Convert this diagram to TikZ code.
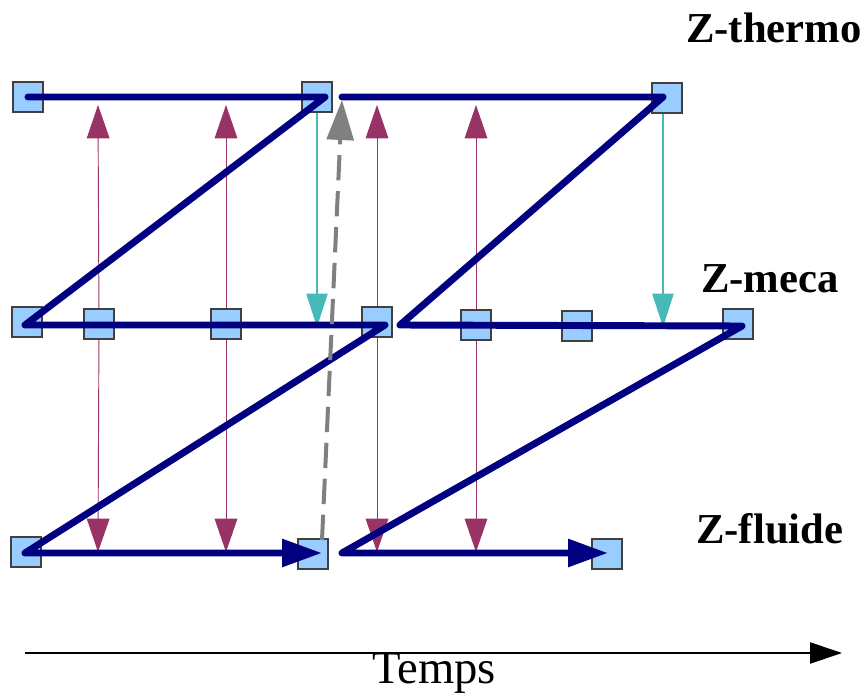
\documentclass[tikz,border=0pt]{standalone}
\usepackage{fontspec}
\setmainfont{Liberation Serif}
\usetikzlibrary{arrows.meta}
\definecolor{ZNavy}{RGB}{0,0,128}
\definecolor{ZBox}{RGB}{153,204,255}
\definecolor{ZSync}{RGB}{153,51,102}
\definecolor{ZTeal}{RGB}{70,185,185}
\definecolor{ZGray}{RGB}{128,128,128}
\tikzset{
  sq/.style={draw=black!75,fill=ZBox,minimum size=22.5pt,inner sep=0pt,line width=0.8pt},
  zline/.style={draw=ZNavy,line width=5.2pt,line cap=round,line join=round},
  zend/.style={zline,-{Triangle[length=30pt,width=20pt]}},
  sync/.style={draw=ZSync,line width=0.7pt,-{Triangle[length=25pt,width=17pt]}},
  back/.style={draw=ZTeal,line width=0.9pt,-{Triangle[length=25pt,width=16pt]}},
  pred/.style={draw=ZGray,line width=3pt,dash pattern=on 19pt off 8pt,-{Triangle[length=30pt,width=20pt]}},
  lab/.style={font=\bfseries\fontsize{32}{36}\selectfont,anchor=base west,inner sep=0pt},
}

\begin{document}
\begin{tikzpicture}[x=0.75pt,y=-0.75pt]
\useasboundingbox (0,0) rectangle (861,696);
% squares
\node[sq] (t1) at (28,97) {};
\node[sq] (t2) at (317,97) {};
\node[sq] (t3) at (667,98) {};
\node[sq] (m1) at (27,322) {};
\node[sq] (m2) at (99,324) {};
\node[sq] (m3) at (226,324) {};
\node[sq] (m4) at (377,322) {};
\node[sq] (m5) at (476,325) {};
\node[sq] (m6) at (577,326) {};
\node[sq] (m7) at (738,324) {};
\node[sq] (f1) at (26,552) {};
\node[sq] (f2) at (313,554) {};
\node[sq] (f3) at (607,554) {};
% corners of the two Z paths
\coordinate (a1) at (325,97);
\coordinate (a2) at (25,325);
\coordinate (a3) at (385,325);
\coordinate (a4) at (25,553);
\coordinate (a5) at (322,553);
\coordinate (b0) at (342,97);
\coordinate (b1) at (663,97);
\coordinate (b2) at (400,325);
\coordinate (b3) at (742,326);
\coordinate (b4) at (342,553);
\coordinate (b5) at (608,553);
% ends of the exchange arrows
\coordinate (u2) at (98,105);
\coordinate (u3) at (226,105);
\coordinate (u4) at (377,105);
\coordinate (u5) at (476,105);
\coordinate (d2) at (98,552);
\coordinate (d3) at (226,552);
\coordinate (d4) at (377,552);
\coordinate (d5) at (476,552);
\coordinate (c2) at (317,327);
\coordinate (c3) at (663,327);
\coordinate (g0) at (322,540);
\coordinate (g1) at (342,100);
% exchanges
\draw[sync] (m2.center) -- (u2);
\draw[sync] (m3.center) -- (u3);
\draw[sync] (m4.center) -- (u4);
\draw[sync] (m5.center) -- (u5);
\draw[sync] (m2.center) -- (d2);
\draw[sync] (m3.center) -- (d3);
\draw[sync] (m4.center) -- (d4);
\draw[sync] (m5.center) -- (d5);
\draw[back] (t2.south) -- (c2);
\draw[back] (t3.south -| c3) -- (c3);
% squares again over the thin lines
\foreach \s in {m2,m3,m4,m5}
  \node[sq] at (\s) {};
% Z paths
\draw[zend] (t1.center) -- (a1) -- (a2) -- (a3) -- (a4) -- (a5);
\draw[zend] (b0) -- (b1) -- (b2) -- (b3) -- (b4) -- (b5);
\draw[pred] (g0) -- (g1);
% labels
\node[lab] (zth) at (686,42) {Z-thermo};
\node[lab] (zme) at (701,292) {Z-meca};
\node[lab] (zfl) at (696,543) {Z-fluide};
% time axis
\coordinate (s0) at (25,653);
\coordinate (s1) at (842,653);
\draw[line width=0.8pt,-{Triangle[length=24pt,width=16pt]}] (s0) -- (s1);
\node[font=\fontsize{35}{39}\selectfont,inner sep=0pt] (tps) at (434,673) {Temps};
\end{tikzpicture}
\end{document}
